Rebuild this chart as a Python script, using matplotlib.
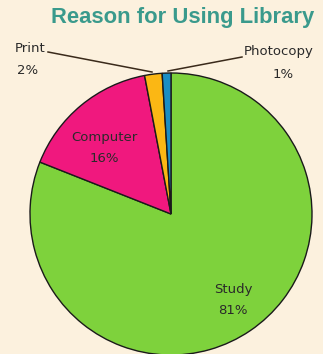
import matplotlib
matplotlib.use("Agg")
import matplotlib.pyplot as plt

# reason for using library (percent)
labels = ["Study", "Computer", "Print", "Photocopy"]
values = [81, 16, 2, 1]
colors = ["#7ed23c", "#f0187e", "#fbb714", "#1a8ec4"]

bg = "#fcf1de"
W, H = 323, 354
cx, cy, R = 171, 214, 141  # pie centre / radius in pixels

fig = plt.figure(figsize=(W / 100, H / 100), dpi=100, facecolor=bg)
ax = fig.add_axes([0, 0, 1, 1])
ax.set_facecolor(bg)

wedges, _ = ax.pie(values, colors=colors, startangle=90, counterclock=False,
                   radius=1, center=(0, 0), frame=True,
                   wedgeprops=dict(edgecolor="#1a1a1a", linewidth=1.0))
ax.set_xlim(-cx / R, (W - cx) / R)
ax.set_ylim(-(H - cy) / R, cy / R)
ax.axis("off")

def px(x, y):
    return ((x - cx) / R, (cy - y) / R)

tk = dict(fontsize=9.5, color="#2a2a2a", ha="center", va="center",
          family="DejaVu Sans")
# (name position, percent position)
pos = [((233, 289), (233, 311)),
       ((104, 137), (104, 159)),
       ((30, 48), (28, 70)),
       ((279, 52), (283, 75))]
for lab, val, (p1, p2) in zip(labels, values, pos):
    ax.text(*px(*p1), lab, **tk)
    ax.text(*px(*p2), "%d%%" % val, **tk)

# leader lines
ax.plot(*zip(px(48, 52), px(152, 72)), color="#3a2a1a", lw=1.1)
ax.plot(*zip(px(242, 57), px(168, 71)), color="#3a2a1a", lw=1.1)

ax.text(*px(183, 18), "Reason for Using Library", fontsize=15.8,
        fontweight="bold", color="#3a9a8c", ha="center", va="center",
        family="Liberation Sans")

fig.savefig("out.png", dpi=100, facecolor=bg)
